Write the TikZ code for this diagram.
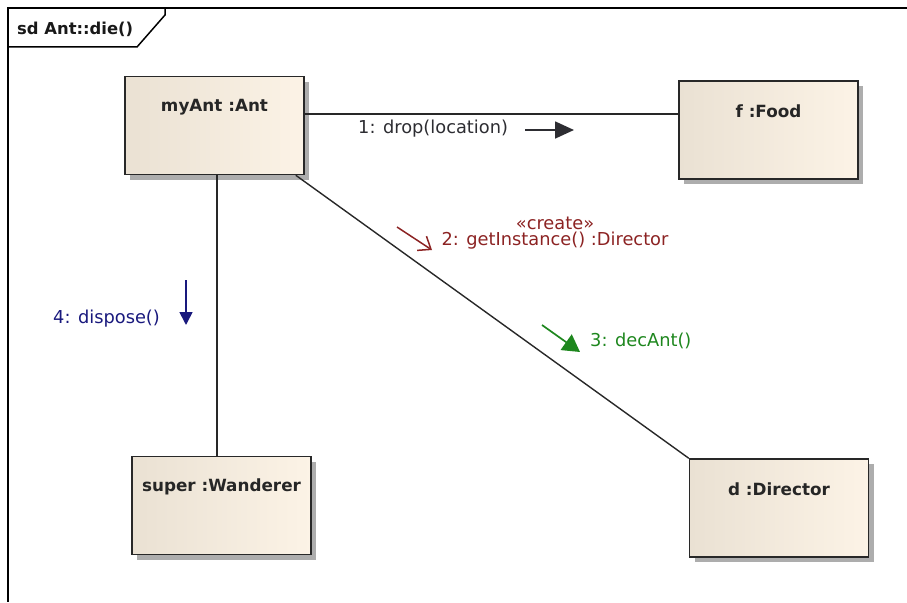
\documentclass[tikz,border=0pt]{standalone}
\usepackage{fontspec}
\setmainfont{DejaVu Sans}
\usetikzlibrary{arrows.meta,shadows}
\definecolor{boxL}{RGB}{234,225,211}
\definecolor{boxR}{RGB}{252,243,230}
\definecolor{edge}{RGB}{40,40,40}
\definecolor{msgblack}{RGB}{45,45,50}
\definecolor{msgred}{RGB}{140,35,35}
\definecolor{msgblue}{RGB}{25,25,125}
\definecolor{msggreen}{RGB}{30,135,30}
\begin{document}
\begin{tikzpicture}[x=1pt,y=-1pt,
  obj/.style={draw=edge, line width=1.5pt, minimum width=179pt, minimum height=98pt,
    inner sep=0pt, left color=boxL, right color=boxR,
    drop shadow={shadow xshift=5pt, shadow yshift=-5pt, fill=black!40, opacity=0.8}},
  objname/.style={anchor=center, yshift=-31pt, font=\bfseries\fontsize{16.8}{19}\selectfont, text=black!85},
  link/.style={draw=edge, line width=1.4pt},
  msg/.style={inner sep=0pt, font=\fontsize{17.8}{16}\selectfont},
  msgline/.style={line width=1.7pt}
]
\useasboundingbox (0,0) rectangle (907,602);

% interaction frame with its name tab
\draw[line width=1.5pt] (907,8) -- (8,8) -- (8,602);
\draw[line width=1.5pt] (8,47) -- (137,47) -- (165,15) -- (165,8);
\node[anchor=west, inner sep=0pt, font=\bfseries\fontsize{16.4}{19}\selectfont, text=black!90] (title) at (17,29) {sd Ant::die()};

% lifeline objects
\node[obj, label={[objname]north:myAnt :Ant}] (ant) at (214.5,125.5) {};
\node[obj, label={[objname]north:f :Food}] (food) at (768.5,130) {};
\node[obj, label={[objname]north:super :Wanderer}] (wanderer) at (221.5,505.5) {};
\node[obj, label={[objname]north:d :Director}] (director) at (779,508) {};

% links between objects
\draw[link] ([yshift=11.5pt]ant.east) -- ([yshift=11.5pt]ant.east -| food.west);
\draw[link] ([xshift=2.5pt]ant.south) -- ([xshift=2.5pt]ant.south |- wanderer.north);
\draw[link] ([xshift=-9pt]ant.south east) -- (director.north west);

% message 1
\node[msg, anchor=west, text=msgblack] (m1) at (358,129) {1: drop(location)};
\coordinate (m1a) at (525,130);
\coordinate (m1b) at (574,130);
\draw[msgline, msgblack, -{Triangle[length=19pt,width=17pt]}] (m1a) -- (m1b);

% message 2
\node[msg, align=center, text=msgred] (m2) at (555,233) {«create»\\2: getInstance() :Director};
\coordinate (m2a) at (397,227);
\coordinate (m2b) at (432,250);
\draw[line width=1.5pt, msgred, -{Straight Barb[length=11pt,width=17pt]}] (m2a) -- (m2b);

% message 3
\node[msg, anchor=west, text=msggreen] (m3) at (590,341) {3: decAnt()};
\coordinate (m3a) at (542,325);
\coordinate (m3b) at (580,352);
\draw[msgline, msggreen, -{Triangle[length=17pt,width=19pt]}] (m3a) -- (m3b);

% message 4
\node[msg, anchor=west, text=msgblue] (m4) at (53,319) {4: dispose()};
\coordinate (m4a) at (186,280);
\coordinate (m4b) at (186,325);
\draw[msgline, msgblue, -{Triangle[length=13pt,width=13pt]}] (m4a) -- (m4b);
\end{tikzpicture}
\end{document}
